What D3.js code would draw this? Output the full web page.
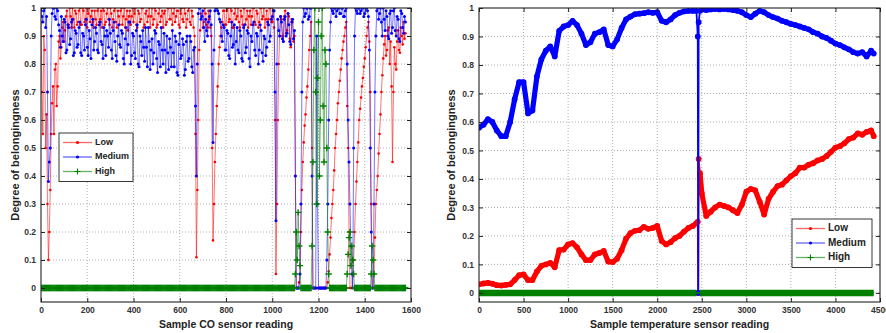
<!DOCTYPE html>
<html>
<head>
<meta charset="utf-8">
<script src="https://cdn.jsdelivr.net/npm/d3@7"></script>
<style>
  body { margin: 0; background: #fff; }
  svg { display: block; font-family: "Liberation Sans", Arial, sans-serif; }
</style>
</head>
<body>
<svg id="chart" width="886" height="333"></svg>
<script>
// ---- CO sensor panel: one reading every coStep samples ----
const coStep = 4
const coLow = [
  0.95, 0.70, 0.55, 0.90, 0.85, 0.50, 0.62, 0.30, 0.10, 0.20, 0.35, 0.55, 0.66, 0.72, 0.55, 0.78, 0.80, 0.65, 0.72, 0.88,
  0.90, 0.82, 0.86, 0.93, 0.95, 0.88, 0.92, 0.97, 0.99, 0.93, 0.94, 1.00, 0.97, 0.93, 1.00, 0.96, 0.93, 0.99, 0.98, 0.94,
  0.95, 0.99, 1.00, 0.94, 0.94, 1.00, 0.99, 0.95, 0.96, 1.00, 0.93, 0.98, 1.00, 0.95, 0.97, 0.99, 0.95, 0.93, 0.99, 0.96,
  0.94, 0.99, 1.00, 0.95, 0.96, 0.99, 0.93, 1.00, 0.99, 0.94, 0.95, 0.98, 1.00, 0.96, 0.94, 1.00, 0.98, 0.93, 0.96, 0.99,
  1.00, 0.95, 0.93, 0.99, 0.97, 0.94, 0.99, 1.00, 0.94, 0.97, 1.00, 0.93, 0.96, 0.99, 0.92, 0.97, 0.99, 0.94, 0.97, 1.00,
  0.95, 0.98, 1.00, 0.94, 0.93, 0.99, 0.98, 0.95, 0.96, 1.00, 1.00, 0.93, 0.94, 0.98, 0.99, 0.95, 0.97, 1.00, 0.93, 0.97,
  1.00, 0.94, 0.96, 1.00, 0.99, 0.93, 0.94, 0.98, 1.00, 0.95, 0.97, 0.99, 0.93, 0.98, 0.99, 0.94, 0.95, 1.00, 1.00, 0.96,
  0.96, 1.00, 0.94, 0.98, 1.00, 0.95, 0.97, 0.99, 0.99, 0.94, 0.93, 0.98, 1.00, 0.96, 0.95, 1.00, 0.98, 0.93, 0.96, 0.99,
  1.00, 0.95, 0.94, 0.99, 0.97, 0.93, 0.90, 0.55, 0.11, 0.35, 0.60, 0.85, 0.92, 0.98, 0.97, 0.93, 0.95, 1.00, 0.98, 0.94,
  0.93, 0.99, 0.96, 0.93, 0.90, 0.50, 0.17, 0.30, 0.45, 0.55, 0.65, 0.72, 0.80, 0.86, 0.90, 0.93, 0.95, 0.99, 0.99, 0.94,
  0.94, 0.99, 1.00, 0.95, 0.96, 1.00, 0.99, 0.93, 0.93, 0.98, 1.00, 0.96, 0.97, 1.00, 0.95, 0.93, 0.99, 0.97, 0.94, 1.00,
  1.00, 0.94, 0.96, 0.99, 0.93, 0.97, 0.99, 0.94, 0.97, 1.00, 1.00, 0.95, 0.94, 0.99, 0.98, 0.93, 0.95, 1.00, 1.00, 0.96,
  0.97, 1.00, 0.93, 0.96, 0.99, 0.94, 0.96, 1.00, 1.00, 0.95, 0.95, 0.99, 0.93, 0.60, 0.05, 0.30, 0.60, 0.80, 0.90, 0.97,
  0.96, 0.90, 0.88, 0.97, 0.99, 0.91, 0.92, 0.98, 0.97, 0.89, 0.86, 0.96, 0.95, 0.88, 0.90, 0.40, 0.00, 0.00, 0.00, 0.02,
  0.05, 0.20, 0.35, 0.45, 0.52, 0.58, 0.62, 0.68, 0.72, 0.78, 0.85, 0.90, 0.95, 0.50, 0.00, 0.00, 0.00, 0.00, 0.00, 0.00,
  0.00, 0.00, 0.00, 0.00, 0.00, 0.00, 0.00, 0.00, 0.00, 0.00, 0.02, 0.06, 0.12, 0.18, 0.25, 0.30, 0.35, 0.42, 0.50, 0.55,
  0.60, 0.66, 0.70, 0.74, 0.78, 0.82, 0.85, 0.88, 0.90, 0.93, 0.95, 0.65, 0.50, 0.20, 0.00, 0.00, 0.00, 0.05, 0.10, 0.20,
  0.30, 0.38, 0.45, 0.52, 0.60, 0.64, 0.68, 0.72, 0.75, 0.79, 0.82, 0.86, 0.90, 0.93, 0.95, 0.88, 0.70, 0.30, 0.00, 0.00,
  0.05, 0.18, 0.30, 0.35, 0.40, 0.48, 0.55, 0.62, 0.70, 0.76, 0.82, 0.87, 0.90, 0.83, 0.85, 0.92, 0.93, 0.80, 0.88, 0.72,
  0.45, 0.70, 0.86, 0.80, 0.78, 0.88, 0.92, 0.85, 0.84, 0.93, 0.90, 0.87, 0.95, 0.89, 0.91
]
const coMedium = [
  0.99, 0.97, 0.95, 0.99, 1.00, 0.93, 0.97, 0.70, 0.38, 0.45, 0.50, 0.90, 0.98, 1.00, 1.00, 0.97, 0.96, 1.00, 0.99, 0.94,
  0.92, 0.86, 0.97, 0.90, 0.88, 0.96, 0.95, 0.84, 0.85, 0.94, 0.93, 0.87, 0.89, 0.95, 0.96, 0.83, 0.84, 0.92, 0.91, 0.86,
  0.87, 0.93, 0.95, 0.84, 0.83, 0.91, 0.90, 0.85, 0.94, 0.96, 0.86, 0.83, 0.92, 0.89, 0.82, 0.94, 0.96, 0.85, 0.88, 0.93,
  0.91, 0.85, 0.84, 0.94, 0.95, 0.88, 0.87, 0.82, 0.93, 0.90, 0.83, 0.92, 0.90, 0.86, 0.96, 0.91, 0.85, 0.82, 0.92, 0.95,
  0.88, 0.83, 0.81, 0.90, 0.94, 0.87, 0.86, 0.92, 0.91, 0.82, 0.80, 0.89, 0.93, 0.84, 0.87, 0.95, 0.95, 0.80, 0.83, 0.91,
  0.90, 0.84, 0.82, 0.92, 0.94, 0.80, 0.79, 0.90, 0.88, 0.83, 0.92, 0.86, 0.81, 0.93, 0.86, 0.79, 0.93, 0.88, 0.78, 0.85,
  0.89, 0.80, 0.84, 0.92, 0.91, 0.82, 0.77, 0.88, 0.87, 0.79, 0.93, 0.85, 0.80, 0.91, 0.85, 0.77, 0.90, 0.84, 0.78, 0.89,
  0.86, 0.79, 0.92, 0.84, 0.79, 0.90, 0.88, 0.77, 0.76, 0.87, 0.91, 0.82, 0.83, 0.89, 0.87, 0.76, 0.78, 0.88, 0.90, 0.81,
  0.82, 0.90, 0.88, 0.79, 0.77, 0.85, 0.86, 0.65, 0.40, 0.80, 0.98, 1.00, 1.00, 0.96, 0.97, 0.99, 0.93, 0.88, 0.96, 0.92,
  0.90, 0.95, 0.97, 0.99, 0.94, 0.80, 0.52, 0.85, 0.99, 1.00, 1.00, 0.99, 0.98, 0.96, 0.95, 0.90, 0.88, 0.94, 0.93, 0.85,
  0.85, 0.92, 0.91, 0.83, 0.82, 0.90, 0.95, 0.86, 0.87, 0.94, 0.80, 0.88, 0.93, 0.85, 0.84, 0.92, 0.90, 0.82, 0.81, 0.93,
  0.94, 0.84, 0.86, 0.92, 0.91, 0.82, 0.79, 0.90, 0.88, 0.94, 0.95, 0.85, 0.83, 0.91, 0.90, 0.80, 0.85, 0.94, 0.92, 0.84,
  0.81, 0.90, 0.89, 0.83, 0.86, 0.95, 0.94, 0.88, 0.90, 0.96, 0.97, 0.99, 0.99, 0.70, 0.24, 0.80, 0.96, 0.92, 0.90, 0.97,
  0.95, 0.89, 0.88, 0.96, 0.97, 0.90, 0.91, 0.98, 0.94, 0.88, 0.87, 0.95, 0.96, 0.89, 0.92, 0.40, 0.00, 0.00, 0.00, 0.00,
  0.05, 0.30, 0.70, 0.95, 1.00, 0.97, 0.98, 1.00, 1.00, 0.96, 0.97, 1.00, 1.00, 0.40, 0.00, 0.00, 0.00, 0.00, 0.90, 0.30,
  0.00, 0.00, 0.00, 0.00, 0.00, 0.00, 0.00, 0.00, 0.00, 0.10, 0.30, 0.60, 0.85, 0.95, 1.00, 0.99, 0.98, 1.00, 1.00, 0.97,
  0.99, 1.00, 1.00, 0.98, 0.98, 1.00, 1.00, 0.97, 0.97, 0.99, 1.00, 0.80, 0.60, 0.45, 0.30, 0.15, 0.05, 0.00, 0.50, 0.90,
  1.00, 0.99, 0.98, 1.00, 1.00, 0.98, 0.99, 1.00, 1.00, 0.97, 0.98, 1.00, 1.00, 0.99, 0.97, 0.85, 0.50, 0.20, 0.00, 0.00,
  0.30, 0.70, 0.90, 0.99, 1.00, 0.96, 0.98, 1.00, 0.95, 0.90, 1.00, 0.96, 0.92, 0.99, 0.97, 0.90, 0.89, 0.98, 0.99, 0.91,
  0.93, 0.99, 1.00, 0.92, 0.90, 0.97, 0.96, 0.89, 0.88, 0.99, 0.98, 0.93, 0.91, 0.97, 0.95
]
const coHigh = [
  0, 0, 0, 0, 0, 0, 0, 0, 0, 0, 0, 0, 0, 0, 0, 0, 0, 0, 0, 0,
  0, 0, 0, 0, 0, 0, 0, 0, 0, 0, 0, 0, 0, 0, 0, 0, 0, 0, 0, 0,
  0, 0, 0, 0, 0, 0, 0, 0, 0, 0, 0, 0, 0, 0, 0, 0, 0, 0, 0, 0,
  0, 0, 0, 0, 0, 0, 0, 0, 0, 0, 0, 0, 0, 0, 0, 0, 0, 0, 0, 0,
  0, 0, 0, 0, 0, 0, 0, 0, 0, 0, 0, 0, 0, 0, 0, 0, 0, 0, 0, 0,
  0, 0, 0, 0, 0, 0, 0, 0, 0, 0, 0, 0, 0, 0, 0, 0, 0, 0, 0, 0,
  0, 0, 0, 0, 0, 0, 0, 0, 0, 0, 0, 0, 0, 0, 0, 0, 0, 0, 0, 0,
  0, 0, 0, 0, 0, 0, 0, 0, 0, 0, 0, 0, 0, 0, 0, 0, 0, 0, 0, 0,
  0, 0, 0, 0, 0, 0, 0, 0, 0, 0, 0, 0, 0, 0, 0, 0, 0, 0, 0, 0,
  0, 0, 0, 0, 0, 0, 0, 0, 0, 0, 0, 0, 0, 0, 0, 0, 0, 0, 0, 0,
  0, 0, 0, 0, 0, 0, 0, 0, 0, 0, 0, 0, 0, 0, 0, 0, 0, 0, 0, 0,
  0, 0, 0, 0, 0, 0, 0, 0, 0, 0, 0, 0, 0, 0, 0, 0, 0, 0, 0, 0,
  0, 0, 0, 0, 0, 0, 0, 0, 0, 0, 0, 0, 0, 0, 0, 0, 0, 0, 0, 0,
  0, 0, 0, 0, 0, 0, 0, 0, 0, 0, 0, 0, 0, 0, 0, 0.05, 0.20, 0.10, 0.27, 0.15,
  0.08, 0, 0, 0, 0, 0, 0, 0, 0, 0, 0, 0, 0, 0.15, 0.45, 0.85, 1.00, 0.70, 0.30, 0.75,
  0.95, 0.40, 0.60, 0.90, 1.00, 0.65, 0.45, 0.85, 0.80, 0.50, 0.20, 0.05, 0, 0, 0, 0, 0, 0, 0, 0,
  0, 0, 0, 0, 0, 0, 0, 0, 0, 0, 0, 0.05, 0.12, 0.18, 0.20, 0.08, 0.15, 0.10, 0.05, 0,
  0, 0, 0, 0, 0, 0, 0, 0, 0, 0, 0, 0, 0, 0, 0, 0, 0, 0.05, 0.15, 0.10,
  0.05, 0, 0, 0, 0, 0, 0, 0, 0, 0, 0, 0, 0, 0, 0, 0, 0, 0, 0, 0,
  0, 0, 0, 0, 0, 0, 0, 0, 0, 0, 0, 0, 0, 0, 0
]
const coXTicks = [0, 200, 400, 600, 800, 1000, 1200, 1400, 1600]

// ---- temperature sensor panel ----
const tempX = [
  0, 50, 100, 150, 200, 250, 300, 350, 400, 450,
  500, 550, 600, 650, 700, 750, 800, 850, 900, 950,
  1000, 1050, 1100, 1150, 1200, 1250, 1300, 1350, 1400, 1450,
  1500, 1550, 1600, 1650, 1700, 1750, 1800, 1850, 1900, 1950,
  2000, 2050, 2100, 2150, 2200, 2250, 2300, 2350, 2400, 2440,
  2455, 2460, 2465, 2480, 2500, 2550, 2600, 2650, 2700, 2750,
  2800, 2850, 2900, 2950, 3000, 3050, 3100, 3150, 3200, 3250,
  3300, 3350, 3400, 3450, 3500, 3550, 3600, 3650, 3700, 3750,
  3800, 3850, 3900, 3950, 4000, 4050, 4100, 4150, 4200, 4250,
  4300, 4350, 4400, 4430
]
const tempLow = [
  0.030, 0.033, 0.035, 0.032, 0.027, 0.026, 0.028, 0.030, 0.045, 0.062,
  0.065, 0.045, 0.045, 0.075, 0.095, 0.100, 0.105, 0.090, 0.150, 0.152,
  0.170, 0.175, 0.160, 0.135, 0.115, 0.115, 0.135, 0.140, 0.147, 0.110,
  0.108, 0.120, 0.150, 0.190, 0.210, 0.218, 0.220, 0.232, 0.225, 0.228,
  0.235, 0.182, 0.170, 0.178, 0.192, 0.200, 0.215, 0.228, 0.235, 0.245,
  0.250, 0.000, 0.470, 0.420, 0.350, 0.270, 0.285, 0.300, 0.310, 0.305,
  0.300, 0.290, 0.280, 0.310, 0.355, 0.365, 0.360, 0.320, 0.275, 0.330,
  0.355, 0.375, 0.380, 0.395, 0.410, 0.420, 0.440, 0.440, 0.450, 0.455,
  0.465, 0.470, 0.480, 0.495, 0.510, 0.515, 0.525, 0.540, 0.545, 0.560,
  0.555, 0.565, 0.570, 0.550
]
const tempMedium = [
  0.580, 0.590, 0.610, 0.600, 0.570, 0.550, 0.550, 0.600, 0.680, 0.740,
  0.740, 0.630, 0.640, 0.760, 0.820, 0.850, 0.865, 0.830, 0.920, 0.935,
  0.940, 0.955, 0.940, 0.910, 0.870, 0.880, 0.910, 0.915, 0.925, 0.870,
  0.865, 0.890, 0.930, 0.960, 0.970, 0.978, 0.980, 0.982, 0.985, 0.983,
  0.985, 0.955, 0.950, 0.960, 0.975, 0.983, 0.988, 0.990, 0.990, 0.990,
  0.900, 0.000, 0.950, 0.990, 0.995, 0.993, 0.995, 0.997, 0.995, 0.997,
  0.995, 0.993, 0.990, 0.985, 0.975, 0.968, 0.980, 0.990, 0.985, 0.975,
  0.968, 0.963, 0.955, 0.950, 0.944, 0.940, 0.935, 0.930, 0.925, 0.915,
  0.910, 0.900, 0.895, 0.885, 0.875, 0.870, 0.862, 0.855, 0.845, 0.840,
  0.845, 0.830, 0.850, 0.840
]
const tempHigh = [
  0, 0, 0, 0, 0, 0, 0, 0, 0, 0,
  0, 0, 0, 0, 0, 0, 0, 0, 0, 0,
  0, 0, 0, 0, 0, 0, 0, 0, 0, 0,
  0, 0, 0, 0, 0, 0, 0, 0, 0, 0,
  0, 0, 0, 0, 0, 0, 0, 0, 0, 0,
  0, 0, 0, 0, 0, 0, 0, 0, 0, 0,
  0, 0, 0, 0, 0, 0, 0, 0, 0, 0,
  0, 0, 0, 0, 0, 0, 0, 0, 0, 0,
  0, 0, 0, 0, 0, 0, 0, 0, 0, 0,
  0, 0, 0, 0
]
// sensor glitch drawn as a thin line, not as the thick band
const tempGlitch = [2450, 2470]
const tempXTicks = [0, 500, 1000, 1500, 2000, 2500, 3000, 3500, 4000, 4500]

const yTicks = [0, 0.1, 0.2, 0.3, 0.4, 0.5, 0.6, 0.7, 0.8, 0.9, 1]
const seriesNames = ['Low', 'Medium', 'High']
const seriesColors = ['#ff0000', '#0000ff', '#008000']

const svg = d3.select('#chart')

const plusPath = s => `M${-s},0H${s}M0,${-s}V${s}`

function drawPanel(p) {
    const x = d3.scaleLinear().domain(p.xDomain).range([p.left, p.right])
    const y = d3.scaleLinear().domain(p.yDomain).range([p.bottom, p.top])
    const g = svg.append('g')

    // dotted grid
    g.append('g').selectAll('line')
        .data(p.xTicks.slice(1, -1))
        .join('line')
        .attr('x1', d => x(d)).attr('x2', d => x(d))
        .attr('y1', p.top).attr('y2', p.bottom)
    g.append('g').selectAll('line')
        .data(yTicks.slice(0, -1))
        .join('line')
        .attr('x1', p.left).attr('x2', p.right)
        .attr('y1', d => y(d)).attr('y2', d => y(d))
    g.selectAll('line')
        .attr('stroke', '#b0b0b0')
        .attr('stroke-width', 1)
        .attr('stroke-dasharray', '1,2')

    const clipId = 'clip_' + p.id
    svg.append('clipPath').attr('id', clipId)
        .append('rect')
        .attr('x', p.left).attr('y', p.top)
        .attr('width', p.right - p.left).attr('height', p.bottom - p.top)

    const plot = g.append('g').attr('clip-path', `url(#${clipId})`)
    const line = d3.line().x(d => x(d[0])).y(d => y(d[1]))

    p.series.forEach((vals, si) => {
        const pts = vals.map((v, i) => [p.xs[i], v])
        const color = seriesColors[si]
        if (p.thick) {
            const band = si === 2 ? 6.5 : 5.2
            plot.append('path')
                .datum(pts)
                .attr('fill', 'none')
                .attr('stroke', color)
                .attr('stroke-width', 1.8)
                .attr('d', line)
            plot.append('path')
                .datum(pts)
                .attr('fill', 'none')
                .attr('stroke', color)
                .attr('stroke-width', band)
                .attr('stroke-linejoin', 'round')
                .attr('d', line.defined(d => d[0] < p.glitch[0] || d[0] > p.glitch[1]))
            line.defined(() => true)
            if (si < 2) {
                plot.append('g').selectAll('circle')
                    .data(pts)
                    .join('circle')
                    .attr('cx', d => x(d[0]))
                    .attr('cy', d => y(d[1]))
                    .attr('r', 2.9)
                    .attr('fill', color)
            }
        } else {
            plot.append('path')
                .datum(pts)
                .attr('fill', 'none')
                .attr('stroke', color)
                .attr('stroke-opacity', 0.55)
                .attr('stroke-width', 1)
                .attr('d', line)
            if (si < 2) {
                plot.append('g').selectAll('circle')
                    .data(pts)
                    .join('circle')
                    .attr('cx', d => x(d[0]))
                    .attr('cy', d => y(d[1]))
                    .attr('r', si === 0 ? 1.3 : 1.5)
                    .attr('fill', color)
            } else {
                plot.append('g').selectAll('path')
                    .data(pts)
                    .join('path')
                    .attr('transform', d => `translate(${x(d[0])},${y(d[1])})`)
                    .attr('d', plusPath(3.2))
                    .attr('stroke', color)
                    .attr('stroke-width', 1.4)
            }
        }
    })

    // box
    g.append('rect')
        .attr('x', p.left).attr('y', p.top)
        .attr('width', p.right - p.left).attr('height', p.bottom - p.top)
        .attr('fill', 'none')
        .attr('stroke', '#222')
        .attr('stroke-width', 1.1)

    // axes, ticks pointing inwards
    const axes = [
        g.append('g').attr('transform', `translate(0,${p.bottom})`)
            .call(d3.axisBottom(x).tickValues(p.xTicks).tickSize(-4).tickPadding(5).tickFormat(d3.format('d'))),
        g.append('g').attr('transform', `translate(${p.left},0)`)
            .call(d3.axisLeft(y).tickValues(yTicks).tickSize(-4).tickPadding(5).tickFormat(d => +d.toFixed(1))),
        g.append('g').attr('transform', `translate(0,${p.top})`)
            .call(d3.axisTop(x).tickValues(p.xTicks).tickSize(-4).tickFormat('')),
        g.append('g').attr('transform', `translate(${p.right},0)`)
            .call(d3.axisRight(y).tickValues(yTicks).tickSize(-4).tickFormat(''))
    ]
    axes.forEach(a => {
        a.select('.domain').remove()
        a.selectAll('.tick line').attr('stroke', '#222')
        a.selectAll('.tick text')
            .attr('fill', '#333')
            .style('font-size', '8.5px')
            .style('font-weight', 'bold')
    })

    // titles
    g.append('text')
        .attr('x', (p.left + p.right) / 2)
        .attr('y', 325)
        .attr('text-anchor', 'middle')
        .attr('dominant-baseline', 'middle')
        .attr('fill', '#222')
        .style('font-size', p.titleSize + 'px')
        .style('font-weight', 'bold')
        .text(p.xTitle)
    g.append('text')
        .attr('transform', `translate(${p.yTitleX},${(p.top + p.bottom) / 2}) rotate(-90)`)
        .attr('text-anchor', 'middle')
        .attr('dominant-baseline', 'middle')
        .attr('fill', '#222')
        .style('font-size', '11px')
        .style('font-weight', 'bold')
        .text('Degree of belongingness')

    // legend
    const lg = p.legend
    const leg = g.append('g').attr('transform', `translate(${lg.x},${lg.y})`)
    leg.append('rect')
        .attr('width', lg.w).attr('height', 48.5)
        .attr('fill', '#fff')
        .attr('stroke', '#222')
        .attr('stroke-width', 0.9)
    seriesNames.forEach((name, i) => {
        const ly = 9.5 + i * 14.5
        const color = seriesColors[i]
        leg.append('line')
            .attr('x1', 4).attr('x2', 33)
            .attr('y1', ly).attr('y2', ly)
            .attr('stroke', color)
            .attr('stroke-opacity', 0.6)
            .attr('stroke-width', 1.3)
        if (i < 2) {
            leg.append('circle').attr('cx', 18.5).attr('cy', ly).attr('r', 1.6).attr('fill', color)
        } else {
            leg.append('path')
                .attr('transform', `translate(18.5,${ly})`)
                .attr('d', plusPath(3))
                .attr('stroke', color)
                .attr('stroke-width', 1.1)
        }
        leg.append('text')
            .attr('x', 36).attr('y', ly)
            .attr('dominant-baseline', 'middle')
            .attr('fill', '#222')
            .style('font-size', lg.fs + 'px')
            .style('font-weight', 'bold')
            .text(name)
    })
}

drawPanel({
    id: 'co',
    left: 41, right: 411, top: 8, bottom: 302,
    xDomain: [0, 1600], yDomain: [-0.05, 1],
    xTicks: coXTicks,
    xs: coLow.map((_, i) => i * coStep),
    series: [coLow, coMedium, coHigh],
    thick: false,
    xTitle: 'Sample CO sensor reading',
    titleSize: 10.5,
    yTitleX: 16,
    legend: { x: 59, y: 133, w: 74, fs: 9 }
})

drawPanel({
    id: 'temp',
    left: 479, right: 880, top: 8, bottom: 302,
    xDomain: [0, 4500], yDomain: [-0.032, 1],
    xTicks: tempXTicks,
    xs: tempX,
    series: [tempLow, tempMedium, tempHigh],
    thick: true,
    glitch: tempGlitch,
    xTitle: 'Sample temperature sensor reading',
    titleSize: 10.5,
    yTitleX: 452.5,
    legend: { x: 792, y: 219, w: 80, fs: 10 }
})
</script>
</body>
</html>
